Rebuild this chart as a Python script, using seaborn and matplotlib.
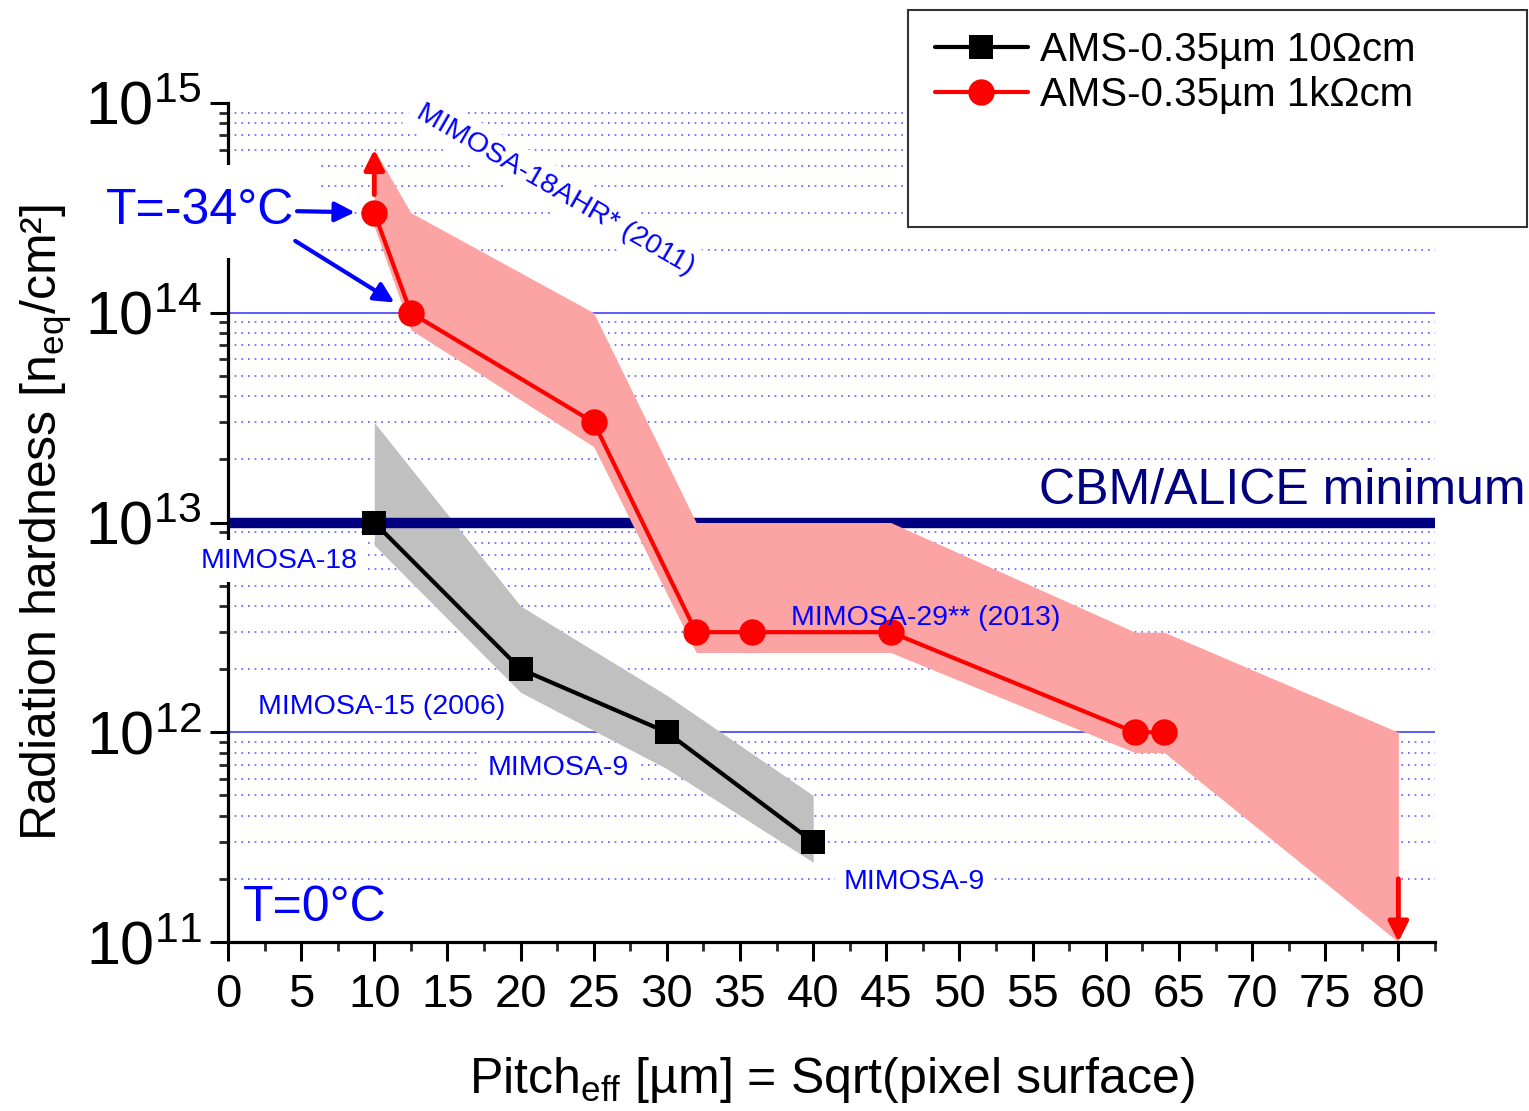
import numpy as np
import pandas as pd
import matplotlib
matplotlib.use("Agg")
import matplotlib.pyplot as plt
from matplotlib.ticker import LogLocator, NullFormatter, FuncFormatter, MultipleLocator
from matplotlib.patches import Rectangle
import seaborn as sns

# ---------------- data ----------------
# AMS-0.35um 10 Ohm cm (black squares)
x_low = [10, 20, 30, 40]
y_low = [1e13, 2e12, 1e12, 3e11]
band_low_x = [10, 20, 30, 40]
band_low_upper = [3e13, 4e12, 1.5e12, 5e11]
band_low_lower = [7.8e12, 1.55e12, 6.7e11, 2.4e11]

# AMS-0.35um 1k Ohm cm (red circles)
x_high = [10, 12.5, 25, 32, 35.8, 45.3, 62, 64]
y_high = [3e14, 1e14, 3e13, 3e12, 3e12, 3e12, 1e12, 1e12]
band_high_x = [10, 12.5, 25, 32, 45.3, 62, 64, 80]
band_high_upper = [6e14, 3e14, 1e14, 1e13, 1e13, 3e12, 3e12, 1e12]
band_high_lower = [2.57e14, 8.3e13, 2.3e13, 2.4e12, 2.4e12, 8e11, 8e11, 1e11]

series_labels = ["AMS-0.35µm 10Ωcm", "AMS-0.35µm 1kΩcm"]
cbm_level = 1e13

# limit arrows (from, to)
red_arrows = [((10, 3e14), (10, 6e14)), ((80, 2e11), (80, 1e11))]

# text labels: (text, x, y, rotation, covers_spine)
labels = [
    ("MIMOSA-18", 3.5, 6.55e12, 0, True),
    ("MIMOSA-15 (2006)", 10.5, 1.32e12, 0, False),
    ("MIMOSA-9", 22.6, 6.75e11, 0, False),
    ("MIMOSA-9", 46.9, 1.93e11, 0, False),
    ("MIMOSA-18AHR* (2011)", 22.4, 3.85e14, -30, False),
]

# ---------------- style ----------------
sns.set_theme(style="white")
plt.rcParams["font.family"] = ["Liberation Sans", "DejaVu Sans"]
plt.rcParams["mathtext.fontset"] = "custom"
plt.rcParams["mathtext.rm"] = "Liberation Sans"
plt.rcParams["mathtext.it"] = "Liberation Sans:italic"
plt.rcParams["mathtext.bf"] = "Liberation Sans:bold"

fig = plt.figure(figsize=(15.29, 11.11), dpi=100)
ax = fig.add_axes([0.1491, 0.1521, 0.7894, 0.7552])

ax.set_yscale("log")
ax.set_xlim(0, 82.5)
ax.set_ylim(1e11, 1e15)

# bands
ax.fill_between(band_low_x, band_low_lower, band_low_upper, color="#C0C0C0", lw=0, zorder=2.0)
ax.axhline(cbm_level, color="#000080", lw=7.5, zorder=2.1, solid_capstyle="butt")
ax.fill_between(band_high_x, band_high_lower, band_high_upper, color="#FCA4A4", lw=0, zorder=2.2)

df_low = pd.DataFrame({"x": x_low, "y": y_low})
df_high = pd.DataFrame({"x": x_high, "y": y_high})
sns.lineplot(data=df_low, x="x", y="y", ax=ax, color="black", lw=3, marker="s",
             markersize=17, markeredgewidth=0, label=series_labels[0], zorder=3, sort=False)
sns.lineplot(data=df_high, x="x", y="y", ax=ax, color="red", lw=3, marker="o",
             markersize=19, markeredgewidth=0, label=series_labels[1], zorder=3.1, sort=False)
if ax.get_legend() is not None:
    ax.get_legend().remove()

# red limit arrows
for (x0, y0), (x1, y1) in red_arrows:
    ax.annotate("", xy=(x1, y1), xytext=(x0, y0),
                arrowprops=dict(arrowstyle="-|>", color="red", lw=3.5, mutation_scale=30,
                                shrinkA=13 if y1 > y0 else 0, shrinkB=0),
                zorder=3.2, annotation_clip=False)

# ticks and grid
ax.yaxis.set_major_locator(LogLocator(base=10, numticks=10))
ax.yaxis.set_minor_locator(LogLocator(base=10, subs=np.arange(2, 10), numticks=100))
ax.yaxis.set_minor_formatter(NullFormatter())
ax.yaxis.set_major_formatter(FuncFormatter(lambda v, p: r"$\mathregular{10^{%d}}$" % int(round(np.log10(v)))))
ax.xaxis.set_major_locator(MultipleLocator(5))
ax.xaxis.set_minor_locator(MultipleLocator(2.5))

ax.grid(False)
ax.grid(which="major", axis="y", color="#3030FF", lw=1.1, ls="-")
ax.grid(which="minor", axis="y", color="#5A5AFF", lw=1.2, ls=(0, (1, 3)))

for s in ["top", "right"]:
    ax.spines[s].set_visible(False)
for s in ["left", "bottom"]:
    ax.spines[s].set_color("black")
    ax.spines[s].set_linewidth(2.3)

ax.tick_params(axis="y", which="major", direction="out", length=13, width=2.2, labelsize=44,
               pad=6, colors="black", left=True)
ax.tick_params(axis="y", which="minor", direction="out", length=6.5, width=2.0, left=True)
ax.tick_params(axis="x", which="major", direction="out", length=14, width=2.2, labelsize=34,
               pad=8, colors="black", bottom=True)
ax.tick_params(axis="x", which="minor", direction="out", length=6.5, width=2.0, bottom=True)

ax.set_xlabel(r"Pitch$_{\mathregular{eff}}$ [µm] = Sqrt(pixel surface)", fontsize=36, color="black", labelpad=28)
ax.set_ylabel(r"Radiation hardness [n$_{\mathregular{eq}}$/cm²]", fontsize=36, color="black", labelpad=8)

# labels with white knockout
for txt, lx, ly, rot, over_spine in labels:
    ax.text(lx, ly, txt, fontsize=20.5, color="#0000FF", ha="center", va="center", rotation=rot,
            rotation_mode="anchor",
            bbox=dict(facecolor="white", edgecolor="none", pad=6),
            zorder=2.6 if over_spine else 1.9, clip_on=False)

ax.text(47.7, 3.5e12, "MIMOSA-29** (2013)", fontsize=20.5, color="#0000FF", ha="center", va="center", zorder=3.5)
ax.text(5.95, 1.45e11, "T=0°C", fontsize=36, color="#0000FF", ha="center", va="center",
        bbox=dict(facecolor="white", edgecolor="none", pad=4), zorder=1.9)
ax.text(88.7, 1.41e13, "CBM/ALICE minimum", fontsize=36, color="#000080", ha="right", va="center",
        zorder=3.5, clip_on=False)

# T=-34 C label with arrows
ax.text(-1.9, 3.05e14, "T=-34°C", fontsize=36, color="#0000FF", ha="center", va="center",
        bbox=dict(facecolor="white", edgecolor="none", pad=17), zorder=2.6, clip_on=False)
blue_arrows = [((4.72, 3.05e14), (10, 3e14)), ((4.6, 2.2e14), (12.5, 1e14))]
for (x0, y0), (x1, y1) in blue_arrows:
    ax.annotate("", xy=(x1, y1), xytext=(x0, y0),
                arrowprops=dict(arrowstyle="-|>", color="#0000FF", lw=3, mutation_scale=30,
                                shrinkA=0, shrinkB=14),
                zorder=3.3, annotation_clip=False)

# hide top (1e15) major gridline
fig.canvas.draw()
for tick in ax.yaxis.get_major_ticks():
    if abs(tick.get_loc() - 1e15) / 1e15 < 1e-6:
        tick.gridline.set_visible(False)

# legend
handles, lbls = ax.get_legend_handles_labels()
fig.patches.append(Rectangle((908 / 1529, 1 - 227 / 1111), 619 / 1529, 217 / 1111,
                             transform=fig.transFigure, facecolor="white", edgecolor="#333333",
                             lw=1.5, zorder=5))
leg = fig.legend(handles, lbls, loc="upper left", bbox_to_anchor=(935 / 1529, 1 - 31 / 1111),
                 frameon=False, fontsize=29, borderpad=0, borderaxespad=0, handlelength=2.3,
                 handletextpad=0.3, labelspacing=0.18, labelcolor="black")
leg.set_zorder(6)

fig.savefig("out.png", dpi=100)
